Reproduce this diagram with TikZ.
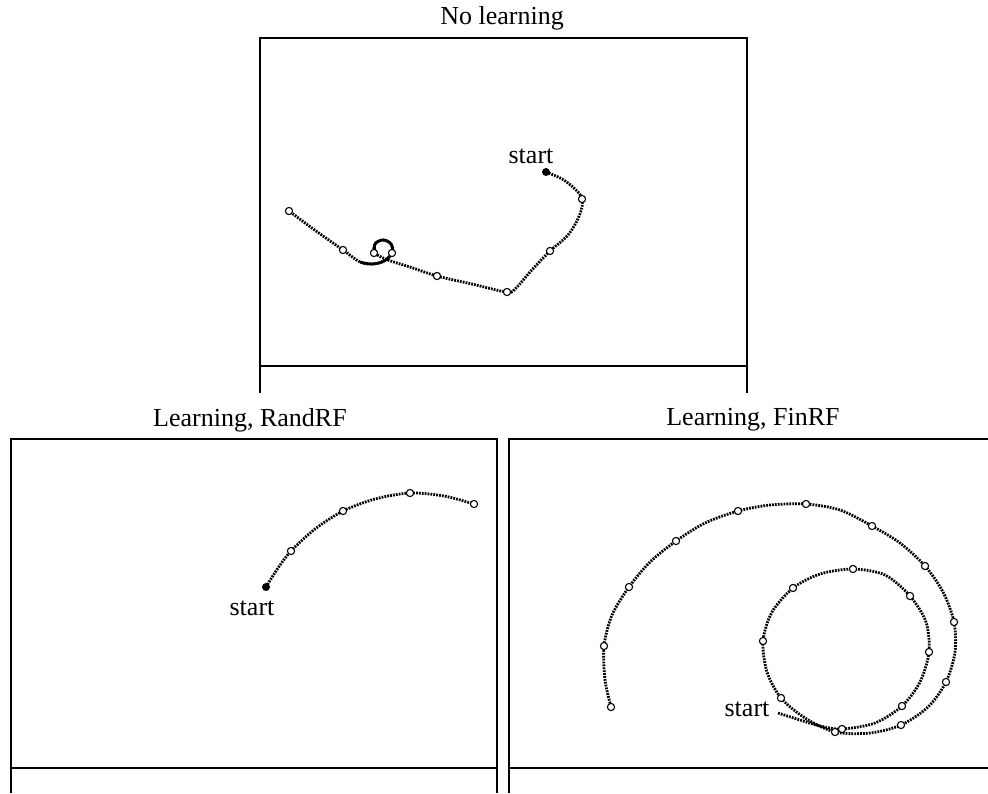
\documentclass[tikz,border=0pt]{standalone}
\usepackage{fontspec}
\setmainfont{Liberation Serif}
\tikzset{
  frame/.style={line width=1.4pt},
  traj/.style={line width=1.4pt,dash pattern=on 0.9pt off 0.55pt},
  trajsolid/.style={line width=1.4pt},
  mk/.style={circle,draw=black,fill=white,line width=0.55pt,inner sep=0pt,
    minimum size=3.6pt},
  mkstart/.style={circle,fill=black,inner sep=0pt,minimum size=4pt},
  mkend/.style={mk,path picture={\fill (path picture bounding box.center)
    circle (1pt);}},
  ttl/.style={font=\fontsize{13}{15}\selectfont,inner sep=0pt},
  lbl/.style={font=\fontsize{13}{15}\selectfont,inner sep=0pt},
}
\begin{document}
\begin{tikzpicture}[x=0.5pt,y=-0.5pt]
  \useasboundingbox (0,0) rectangle (988,793);
  % panel frames
  \draw[frame] (260,393) -- (260,38) -- (747,38) -- (747,393);
  \draw[frame] (260,366) -- (747,366);
  \draw[frame] (11,793) -- (11,439) -- (497,439) -- (497,793);
  \draw[frame] (11,768) -- (497,768);
  \draw[frame] (509,793) -- (509,439) -- (988,439);
  \draw[frame] (509,768) -- (988,768);
  \node[ttl] (t1) at (502,18) {No learning};
  \node[ttl] (t2) at (250,420) {Learning, RandRF};
  \node[ttl] (t3) at (753,420) {Learning, FinRF};

  % no learning
  \draw[traj] plot[smooth,tension=0.6] coordinates {(546,172) (562,179) (575,189)
    (582,199) (580,214) (568,235) (550,251) (530,272) (516,288) (507,292)
    (472,284) (437,276) (410,267) (388,260) (375,253) (375,244) (383,240)
    (391,244) (392,253) (384,261) (372,264) (360,262) (343,250) (316,231)
    (289,211)};
  \draw[trajsolid] plot[smooth,tension=0.6] coordinates {(375,253) (375,244)
    (383,240) (391,244) (392,253) (384,261) (372,264) (360,262)};
  \foreach \p [count=\i] in {(582,199),(550,251),(507,292),(437,276),
    (392,253),(374,253),(343,250)}
    \node[mk] (a\i) at \p {};
  \node[mkstart] (s1) at (546,172) {};
  \node[mkend] (e1) at (289,211) {};
  \node[lbl] (l1) at (531,156) {start};

  % randrf
  \draw[traj] plot[smooth] coordinates {(266,587) (278,568) (291,551) (315,529)
    (343,511) (375,499) (410,493) (444,496) (474,504)};
  \foreach \p [count=\i] in {(291,551),(343,511),(410,493)}
    \node[mk] (b\i) at \p {};
  \node[mkstart] (s2) at (266,587) {};
  \node[mkend] (e2) at (474,504) {};
  \node[lbl] (l2) at (252,608) {start};

  % finrf
  \draw[traj] plot[smooth] coordinates {(778,713) (800,720) (820,726) (842,729)
    (875,723) (902,706) (920,682) (929,652) (926,622) (910,596) (885,575)
    (853,569) (820,574) (793,588) (772,612) (763,641) (767,672) (781,698)
    (805,718) (835,732) (870,733) (901,725) (928,707) (946,682) (955,652)
    (954,622) (943,592) (925,566) (900,543) (872,526) (840,510) (806,504)
    (770,505) (738,511) (705,523) (676,541) (650,562) (629,587) (612,615)
    (604,646) (605,680) (611,707)};
  \foreach \p [count=\i] in {(842,729),(902,706),(929,652),(910,596),(853,569),
    (793,588),(763,641),(781,698),(835,732),(901,725),(946,682),(954,622),
    (925,566),(872,526),(806,504),(738,511),(676,541),(629,587),(604,646),
    (611,707)}
    \node[mk] (c\i) at \p {};
  \node[lbl] (l3) at (747,709) {start};
\end{tikzpicture}
\end{document}
